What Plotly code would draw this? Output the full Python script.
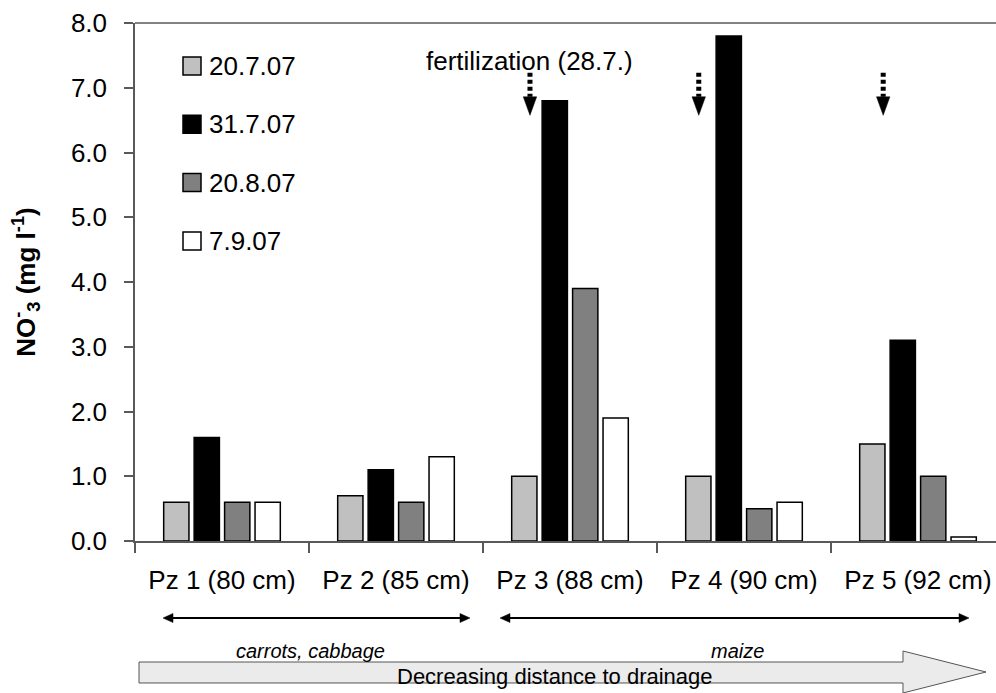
import plotly.graph_objects as go

# ---------------- data ----------------
categories = ["Pz 1 (80 cm)", "Pz 2 (85 cm)", "Pz 3 (88 cm)", "Pz 4 (90 cm)", "Pz 5 (92 cm)"]
series_names = ["20.7.07", "31.7.07", "20.8.07", "7.9.07"]
no3_20_7 = [0.6, 0.7, 1.0, 1.0, 1.5]
no3_31_7 = [1.6, 1.1, 6.8, 7.8, 3.1]
no3_20_8 = [0.6, 0.6, 3.9, 0.5, 1.0]
no3_7_9 = [0.6, 1.3, 1.9, 0.6, 0.06]
series_values = [no3_20_7, no3_31_7, no3_20_8, no3_7_9]
y_ticks = [0, 1, 2, 3, 4, 5, 6, 7, 8]
y_tick_labels = ["%.1f" % v for v in y_ticks]

# ---------------- styles / layout ----------------
series_colors = ["#C0C0C0", "#000000", "#808080", "#FFFFFF"]
W, H = 996, 693
L, R, T, B = 135, 0, 23, 152
PW, PH = W - L - R, H - T - B
CAT_PX = 174.0
FONT = "Liberation Sans, Arial, sans-serif"
AXC = "#595959"
FS = 26


def px(x):
    return (x - L) / PW


def py(y):
    return (H - B - y) / PH


fig = go.Figure()
for name, vals, col in zip(series_names, series_values, series_colors):
    fig.add_trace(go.Bar(
        x=categories, y=vals, name=name, showlegend=False,
        marker=dict(color=col, line=dict(color="black", width=1.5)),
    ))

shapes = []
annotations = []

# manual legend
for i, (name, col) in enumerate(zip(series_names, series_colors)):
    cy = 66 + 58.3 * i
    shapes.append(dict(type="rect", xref="paper", yref="paper",
                       x0=px(183), x1=px(201), y0=py(cy + 9), y1=py(cy - 9),
                       fillcolor=col, line=dict(color="black", width=1.5)))
    annotations.append(dict(xref="paper", yref="paper", x=px(207), y=py(cy),
                            xanchor="left", yanchor="middle", showarrow=False,
                            text=name, font=dict(size=FS, color="black", family=FONT)))

# fertilization arrows (dotted shafts + heads)
arrow_x = [1.77, 2.74, 3.80]
shaft_top, head_base, head_tip = 7.23, 6.86, 6.575
hw = 6.7 / CAT_PX
for ax_ in arrow_x:
    shapes.append(dict(type="line", xref="x", yref="y", x0=ax_, x1=ax_,
                       y0=shaft_top, y1=head_base,
                       line=dict(color="black", width=5, dash="4px,3px")))
    shapes.append(dict(type="path", xref="x", yref="y",
                       path="M %f,%f L %f,%f L %f,%f Z" % (ax_ - hw, head_base, ax_ + hw, head_base, ax_, head_tip),
                       fillcolor="black", line=dict(color="black", width=0.5)))
annotations.append(dict(xref="x", yref="y", x=1.765, y=7.41, showarrow=False,
                        text="fertilization (28.7.)", xanchor="center", yanchor="middle",
                        font=dict(size=FS, color="black", family=FONT)))

# crop double arrows (line + two heads)
ya = 618
for x_a, x_b in [(163, 470), (500, 969)]:
    shapes.append(dict(type="line", xref="paper", yref="paper",
                       x0=px(x_a + 6), x1=px(x_b - 6), y0=py(ya), y1=py(ya),
                       line=dict(color="black", width=2)))
    for tip, base in [(x_a, x_a + 10), (x_b, x_b - 10)]:
        shapes.append(dict(type="path", xref="paper", yref="paper",
                           path="M %f,%f L %f,%f L %f,%f Z" % (px(tip), py(ya), px(base), py(ya - 4.5),
                                                               px(base), py(ya + 4.5)),
                           fillcolor="black", line=dict(color="black", width=0.5)))
annotations.append(dict(xref="paper", yref="paper", x=px(310), y=py(651), showarrow=False,
                        text="<i>carrots, cabbage</i>", xanchor="center", yanchor="middle",
                        font=dict(size=20, color="black", family=FONT)))
annotations.append(dict(xref="paper", yref="paper", x=px(737), y=py(651), showarrow=False,
                        text="<i>maize</i>", xanchor="center", yanchor="middle",
                        font=dict(size=20, color="black", family=FONT)))

# big "distance" arrow
pts = [(139, 662), (903, 662), (903, 651), (986, 672), (903, 693), (903, 683), (139, 683)]
path = "M " + " L ".join("%f,%f" % (px(a), py(b)) for a, b in pts) + " Z"
shapes.append(dict(type="path", xref="paper", yref="paper", path=path,
                   fillcolor="#EBEBEB", line=dict(color="#555555", width=1)))
annotations.append(dict(xref="paper", yref="paper", x=px(555), y=py(676), showarrow=False,
                        text="Decreasing distance to drainage", xanchor="center", yanchor="middle",
                        font=dict(size=22, color="black", family=FONT)))

# top border line
shapes.append(dict(type="line", xref="paper", yref="paper", x0=0, x1=1, y0=1, y1=1,
                   line=dict(color=AXC, width=1.5)))

fig.update_layout(
    width=W, height=H,
    margin=dict(l=L, r=R, t=T, b=B, pad=0),
    paper_bgcolor="white", plot_bgcolor="white",
    barmode="group", bargap=0.30, bargroupgap=0.17,
    font=dict(family=FONT, size=FS, color="black"),
    shapes=shapes, annotations=annotations,
    xaxis=dict(type="category", range=[-0.5, PW / CAT_PX - 0.5],
               tickson="boundaries", ticks="outside", ticklen=10, tickwidth=1.5,
               tickcolor=AXC, showline=True, linecolor=AXC, linewidth=1.5,
               showgrid=False, tickfont=dict(size=FS, color="black"),
               ticklabelstandoff=15),
    yaxis=dict(range=[0, 8], tickmode="array", tickvals=y_ticks, ticktext=y_tick_labels,
               ticks="outside", ticklen=9, tickwidth=1.5, tickcolor=AXC,
               showline=True, linecolor=AXC, linewidth=1.5, showgrid=False, zeroline=False,
               tickfont=dict(size=FS, color="black"), ticklabelstandoff=12,
               title=dict(text="<b>NO<sup>-</sup><sub>3</sub> (mg l<sup>-1</sup>)</b>",
                          font=dict(size=26, color="black"), standoff=28)),
)

fig.write_html("out.html", config={"displayModeBar": False},
               post_script="document.body.style.margin='0px';document.body.style.overflow='hidden';")
